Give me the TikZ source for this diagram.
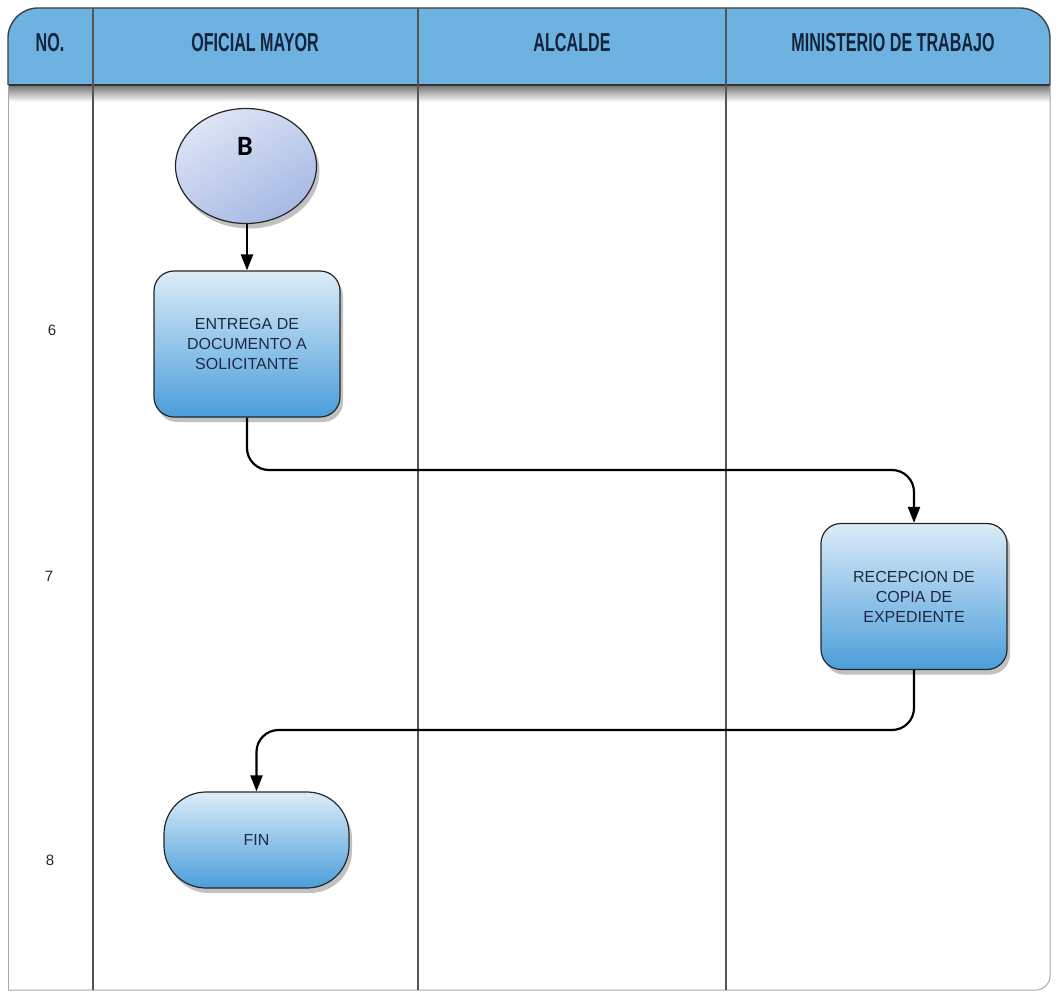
\documentclass[tikz,border=0pt]{standalone}
\usepackage{fontspec}
\setmainfont{Liberation Sans}
\newfontfamily\hdrfont[FakeStretch=0.62]{Liberation Sans}
\newfontfamily\bfont{Carlito}
\usetikzlibrary{shadows,shapes.geometric,arrows.meta,calc}
\definecolor{hdr}{HTML}{6EB2E2}
\definecolor{hdrtext}{HTML}{14243A}
\definecolor{boxtop}{HTML}{DCECF8}
\definecolor{boxbot}{HTML}{4A9EDA}
\definecolor{elltop}{HTML}{DDE4F5}
\definecolor{ellbot}{HTML}{A6B9E4}
\definecolor{txt}{HTML}{1E2A44}
\definecolor{lane}{HTML}{555555}
\tikzset{
  hdrlbl/.style={font=\hdrfont\fontsize{26}{30}\selectfont\bfseries, text=hdrtext},
  lanel/.style={draw=lane, line width=1.4pt},
  shad/.style={drop shadow={shadow xshift=3pt, shadow yshift=-5pt, opacity=0.35, fill=black!70}},
  proc/.style={draw=black!85, line width=1.2pt, rounded corners=20pt, top color=boxtop, bottom color=boxbot,
    minimum width=186pt, minimum height=146pt, align=center, text=txt,
    font=\fontsize{16}{20}\selectfont, shad},
  term/.style={draw=black!85, line width=1.2pt, rounded corners=42pt, top color=boxtop, bottom color=boxbot,
    minimum width=185pt, minimum height=96pt, align=center, text=txt,
    font=\fontsize{16}{20}\selectfont, shad},
  conn/.style={draw=black!85, line width=1.2pt, ellipse, top color=elltop, bottom color=ellbot, shading angle=30,
    minimum width=141pt, minimum height=115pt, inner sep=0pt},
  arr/.style={line width=2.2pt, -{Triangle[length=16pt,width=12pt]}},
  numl/.style={font=\fontsize{15}{18}\selectfont, text=black!85}
}
\begin{document}
\begin{tikzpicture}[x=1pt,y=-1pt]
\useasboundingbox (0,0) rectangle (1058,992);
% header shadow
\fill[top color=black!55, bottom color=white] (8,85) rectangle (1050,102);
% header band with rounded top corners
\begin{scope}
  \clip (0,0) rectangle (1058,85);
  \draw[fill=hdr, draw=black!75, line width=1.4pt, rounded corners=30pt] (8,8) rectangle (1050,140);
\end{scope}
\draw[black!80, line width=1.8pt] (8,85) -- (1050,85);
% frame
\draw[gray!70, line width=1pt] (8,85) -- (8,990);
\draw[gray!70, line width=1pt, rounded corners=14pt] (8,990) -| (1050,85);
% lane dividers
\draw[lanel] (93,8) -- (93,990);
\draw[lanel] (418,8) -- (418,990);
\draw[lanel] (726,8) -- (726,990);
% header labels
\node[hdrlbl] (h0) at (50,43) {NO.};
\node[hdrlbl] (h1) at (255,43) {OFICIAL MAYOR};
\node[hdrlbl] (h2) at (572,43) {ALCALDE};
\node[hdrlbl] (h3) at (893,43) {MINISTERIO DE TRABAJO};
% row numbers
\node[numl] (n6) at (52,330) {6};
\node[numl] (n7) at (49,576) {7};
\node[numl] (n8) at (50,860) {8};
% shapes
\node[conn, shad] (B) at (246,166) {};
\node[font=\bfont\bfseries\fontsize{28}{30}\selectfont, text=black] (Bt) at (245,146) {B};
\node[proc] (b1) at (247,344) {ENTREGA DE\\DOCUMENTO A\\SOLICITANTE};
\node[proc] (b2) at (914,596.5) {RECEPCION DE\\COPIA DE\\EXPEDIENTE};
\node[term] (fin) at (256.5,840) {FIN};
% connectors
\coordinate (m1) at (0,470);
\coordinate (m2) at (0,730);
\draw[arr] (B.south -| b1.north) -- (b1.north);
\draw[arr, rounded corners=22pt] (b1.south) -- (b1.south |- m1) -- (b2.north |- m1) -- (b2.north);
\draw[arr, rounded corners=22pt] (b2.south) -- (b2.south |- m2) -- (fin.north |- m2) -- (fin.north);
\end{tikzpicture}
\end{document}
